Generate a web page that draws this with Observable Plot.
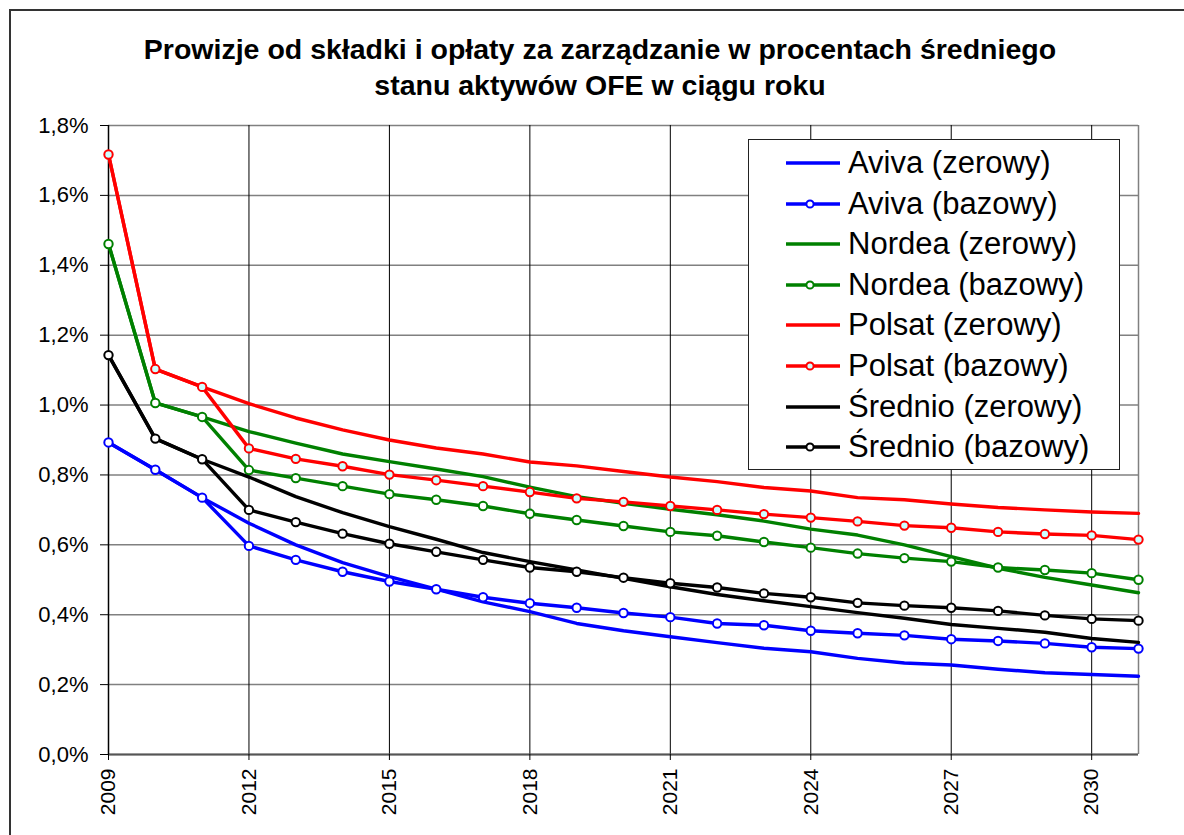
<!DOCTYPE html>
<html>
<head>
<meta charset="utf-8">
<script src="https://cdn.jsdelivr.net/npm/d3@7"></script>
<script src="https://cdn.jsdelivr.net/npm/@observablehq/plot@0.6"></script>
<style>
  html, body { margin: 0; padding: 0; background: #fff; }
  body { font-family: "Liberation Sans", Arial, sans-serif; }
  #wrap { position: relative; width: 1184px; height: 835px; overflow: hidden; background: #fff; }
  #frame { position: absolute; left: 9px; top: 9px; width: 1200px; height: 900px; border: 2px solid #333; box-sizing: border-box; }
  #title { position: absolute; left: 0; width: 1200px; top: 31px; text-align: center; font-weight: bold; font-size: 28.5px; line-height: 36px; color: #000; }
  #chart { position: absolute; left: 0; top: 110px; }
  #legend { position: absolute; left: 748px; top: 139px; width: 372px; height: 331px; box-sizing: border-box; border: 1.5px solid #222; background: #fff; }
  .row { position: absolute; left: 0; width: 100%; height: 40px; }
  .row svg { position: absolute; left: 37px; top: 0; }
  .row span { position: absolute; left: 99px; top: 0; font-size: 31px; white-space: nowrap; color: #000; line-height: 40px; }
</style>
</head>
<body>
<div id="wrap">
  <div id="frame"></div>
  <div id="title">Prowizje od składki i opłaty za zarządzanie w procentach średniego<br>stanu aktywów OFE w ciągu roku</div>
  <div id="chart"></div>
  <div id="legend"></div>
</div>
<script>
const years = [2009,2010,2011,2012,2013,2014,2015,2016,2017,2018,2019,2020,2021,2022,2023,2024,2025,2026,2027,2028,2029,2030,2031];

const avivaZerowy   = [0.893,0.815,0.735,0.662,0.600,0.549,0.509,0.473,0.437,0.409,0.375,0.354,0.337,0.320,0.304,0.294,0.275,0.262,0.256,0.244,0.234,0.229,0.224];
const avivaBazowy   = [0.893,0.815,0.735,0.597,0.557,0.523,0.495,0.473,0.450,0.433,0.420,0.405,0.393,0.375,0.370,0.354,0.347,0.341,0.330,0.325,0.318,0.307,0.303];
const nordeaZerowy  = [1.461,1.006,0.966,0.924,0.891,0.860,0.838,0.817,0.795,0.765,0.738,0.719,0.702,0.686,0.668,0.645,0.628,0.600,0.566,0.533,0.507,0.485,0.463];
const nordeaBazowy  = [1.461,1.006,0.966,0.814,0.791,0.768,0.745,0.729,0.711,0.689,0.671,0.654,0.637,0.626,0.608,0.592,0.575,0.562,0.552,0.535,0.528,0.519,0.500];
const polsatZerowy  = [1.717,1.103,1.052,1.004,0.963,0.929,0.900,0.877,0.860,0.837,0.826,0.810,0.794,0.781,0.764,0.754,0.735,0.729,0.717,0.707,0.700,0.694,0.690];
const polsatBazowy  = [1.717,1.103,1.052,0.876,0.846,0.825,0.801,0.785,0.768,0.751,0.733,0.723,0.711,0.700,0.688,0.678,0.667,0.655,0.649,0.637,0.631,0.627,0.615];
const sredZerowy    = [1.143,0.904,0.845,0.794,0.738,0.692,0.652,0.616,0.578,0.552,0.528,0.504,0.480,0.458,0.440,0.423,0.406,0.390,0.372,0.361,0.350,0.332,0.321];
const sredBazowy    = [1.143,0.904,0.845,0.700,0.665,0.632,0.603,0.580,0.557,0.535,0.523,0.506,0.490,0.478,0.461,0.450,0.434,0.426,0.420,0.411,0.398,0.388,0.383];

const seriesNames = ["Aviva (zerowy)","Aviva (bazowy)","Nordea (zerowy)","Nordea (bazowy)","Polsat (zerowy)","Polsat (bazowy)","Średnio (zerowy)","Średnio (bazowy)"];
const seriesValues = [avivaZerowy, avivaBazowy, nordeaZerowy, nordeaBazowy, polsatZerowy, polsatBazowy, sredZerowy, sredBazowy];
const seriesColors = ["#0000ff","#0000ff","#008000","#008000","#ff0000","#ff0000","#000000","#000000"];
const seriesMarker = [false,true,false,true,false,true,false,true];
const markerFill = ["#fff","#fff","#fff","#fff","#fff","#ccffff","#fff","#fff"];

const xTicks = [2009,2012,2015,2018,2021,2024,2027,2030];
const yTicks = [0,0.2,0.4,0.6,0.8,1.0,1.2,1.4,1.6,1.8];

const fmtY = d => d.toFixed(1).replace(".", ",") + "%";

const marks = [
  Plot.gridY(yTicks, {stroke: "#808080", strokeOpacity: 1, strokeWidth: 1.5}),
  Plot.gridX(xTicks.slice(1), {stroke: "#000", strokeOpacity: 1, strokeWidth: 1}),
  Plot.ruleX([2031], {stroke: "#808080", strokeWidth: 1.5}),
  Plot.ruleY([0], {stroke: "#555", strokeWidth: 2}),
  Plot.ruleX([2009], {stroke: "#000", strokeWidth: 1.5}),
  Plot.axisY(yTicks, {tickFormat: fmtY, tickSize: 8, tickPadding: 12, fontSize: 22, label: null, fill: "#000"}),
  Plot.axisX(xTicks, {tickFormat: d => String(d), tickSize: 6, tickPadding: 8, tickRotate: -90, fontSize: 21, label: null, fill: "#000"})
];

seriesNames.forEach((name, i) => {
  const data = years.map((y, j) => ({year: y, value: seriesValues[i][j]}));
  marks.push(Plot.lineY(data, {x: "year", y: "value", stroke: seriesColors[i], strokeWidth: 3.4, curve: "linear"}));
  if (seriesMarker[i]) {
    marks.push(Plot.dot(data, {x: "year", y: "value", r: 4.2, stroke: seriesColors[i], strokeWidth: 2, fill: markerFill[i]}));
  }
});

const chart = Plot.plot({
  width: 1184,
  height: 725,
  marginTop: 15,
  marginBottom: 81,
  marginLeft: 108,
  marginRight: 46,
  x: {domain: [2009, 2031], type: "linear"},
  y: {domain: [0, 1.8]},
  style: {fontFamily: "'Liberation Sans', Arial, sans-serif", background: "transparent", color: "#000"},
  marks
});
document.getElementById("chart").appendChild(chart);

// legend
const legend = document.getElementById("legend");
const ns = "http://www.w3.org/2000/svg";
seriesNames.forEach((name, i) => {
  const row = document.createElement("div");
  row.className = "row";
  row.style.top = (23 + i * 40.6 - 20) + "px";
  const svg = document.createElementNS(ns, "svg");
  svg.setAttribute("width", "56");
  svg.setAttribute("height", "40");
  const ln = document.createElementNS(ns, "line");
  ln.setAttribute("x1", "0"); ln.setAttribute("x2", "54");
  ln.setAttribute("y1", "20"); ln.setAttribute("y2", "20");
  ln.setAttribute("stroke", seriesColors[i]); ln.setAttribute("stroke-width", "3.4");
  svg.appendChild(ln);
  if (seriesMarker[i]) {
    const c = document.createElementNS(ns, "circle");
    c.setAttribute("cx", "24"); c.setAttribute("cy", "20"); c.setAttribute("r", "3.6");
    c.setAttribute("fill", markerFill[i]); c.setAttribute("stroke", seriesColors[i]); c.setAttribute("stroke-width", "2");
    svg.appendChild(c);
  }
  row.appendChild(svg);
  const sp = document.createElement("span");
  sp.textContent = name;
  row.appendChild(sp);
  legend.appendChild(row);
});
</script>
</body>
</html>
